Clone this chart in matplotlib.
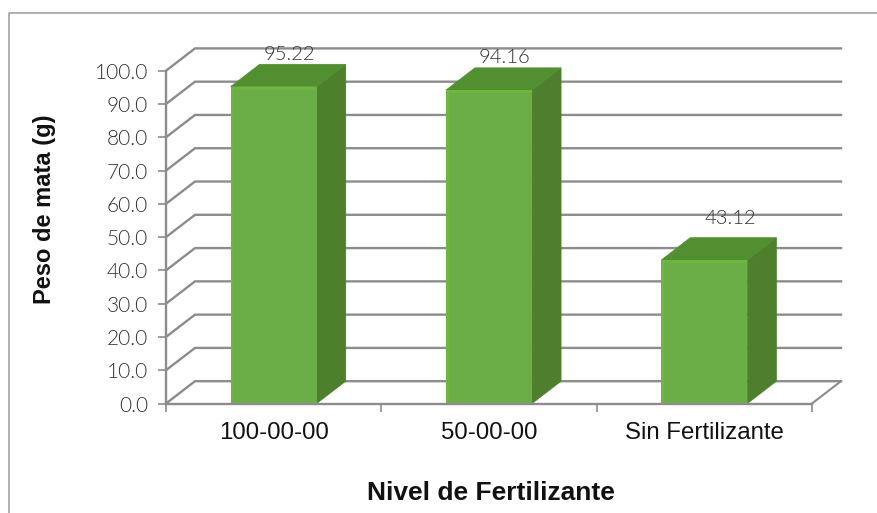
import matplotlib
matplotlib.use("Agg")
import matplotlib.pyplot as plt
from matplotlib.lines import Line2D
from matplotlib.patches import Polygon

categories = ["100-00-00", "50-00-00", "Sin Fertilizante"]
values = [95.22, 94.16, 43.12]
value_labels = ["95.22", "94.16", "43.12"]
y_ticks = [0, 10, 20, 30, 40, 50, 60, 70, 80, 90, 100]
x_title = "Nivel de Fertilizante"
y_title = "Peso de mata (g)"
label_nudge_pts = [(1, 1), (1, 1), (8, 8)]

W, H = 877, 513
L, R, T, B = 166, 812, 70.7, 403.5
GREY = "#8c8c8c"
thin = "Lato"

fig = plt.figure(figsize=(W / 100, H / 100), dpi=100)
plt.rcParams["font.family"] = "Liberation Sans"
ax = fig.add_axes([L / W, 1 - B / H, (R - L) / W, (B - T) / H])
ax.set_xlim(0, len(categories))
ax.set_ylim(0, 100)
ax.patch.set_alpha(0)

# depth of the 3D box, in data units
dx = 29 / ((R - L) / len(categories))
dy = 22.3 / ((B - T) / 100)
bar_w = 0.40
EDGE = "#6eb63e"
FACE = "#6bad46"

for v in y_ticks:
    ax.plot([0, dx, len(categories) + dx], [v, v + dy, v + dy], color=GREY, lw=1.7,
            clip_on=False, zorder=1, solid_joinstyle="miter")
ax.plot([len(categories), len(categories) + dx], [0, dy], color=GREY, lw=1.5, clip_on=False, zorder=1)

for i, v in enumerate(values):
    c = i + 0.5
    x0, x1 = c - bar_w / 2, c + bar_w / 2
    ax.add_patch(Polygon([(x1, 0), (x1 + dx, dy), (x1 + dx, v + dy), (x1, v)],
                         fc="#4d7f2c", ec="#4d7f2c", lw=0.5, clip_on=False, zorder=3))
    ax.add_patch(Polygon([(x0, v), (x0 + dx, v + dy), (x1 + dx, v + dy), (x1, v)],
                         fc="#528f30", ec="#528f30", lw=0.5, clip_on=False, zorder=3))
    ax.bar(c, v, width=bar_w, color=EDGE, zorder=4, clip_on=False)
    ax.bar(c + 0.006, v - 1.5, width=bar_w - 0.012, bottom=0.5, color=FACE, zorder=5, clip_on=False)
    ax.annotate(value_labels[i], (c + dx / 2, v + dy), xytext=label_nudge_pts[i],
                textcoords="offset points", ha="center", va="bottom",
                fontsize=14.5, family=thin, fontweight=300, color="#333333", zorder=6,
                annotation_clip=False)

ax.set_xticks(range(len(categories) + 1))
ax.set_xticklabels([])
ax.set_xticks([i + 0.5 for i in range(len(categories))], categories, minor=True)
ax.tick_params(axis="x", which="major", length=5.5, color=GREY, width=1.2)
ax.tick_params(axis="x", which="minor", length=0, pad=13.5, labelsize=17.3, labelcolor="#111111")
ax.set_yticks(y_ticks, [f"{v:.1f}" for v in y_ticks])
ax.tick_params(axis="y", length=5.5, color=GREY, width=1.2, pad=7.5, labelsize=15, labelcolor="#333333")
for lab in ax.get_yticklabels():
    lab.set_family(thin)
    lab.set_fontweight(300)
for s in ("top", "right"):
    ax.spines[s].set_visible(False)
for s in ("left", "bottom"):
    ax.spines[s].set_color(GREY)
    ax.spines[s].set_linewidth(1.7)
ax.spines["bottom"].set_zorder(7)

fig.text(491 / W, 1 - 493 / H, x_title, ha="center", va="center", fontsize=19, fontweight="bold", color="#111111")
fig.text(45 / W, 1 - 209 / H, y_title, ha="center", va="center", rotation=90, fontsize=17,
         fontweight="bold", color="#111111")

fig.add_artist(Line2D([9 / W, 9 / W, 1], [0, 1 - 12.5 / H, 1 - 12.5 / H], color="#9a9a9a", lw=1.1))
fig.savefig("out.png", dpi=100)
